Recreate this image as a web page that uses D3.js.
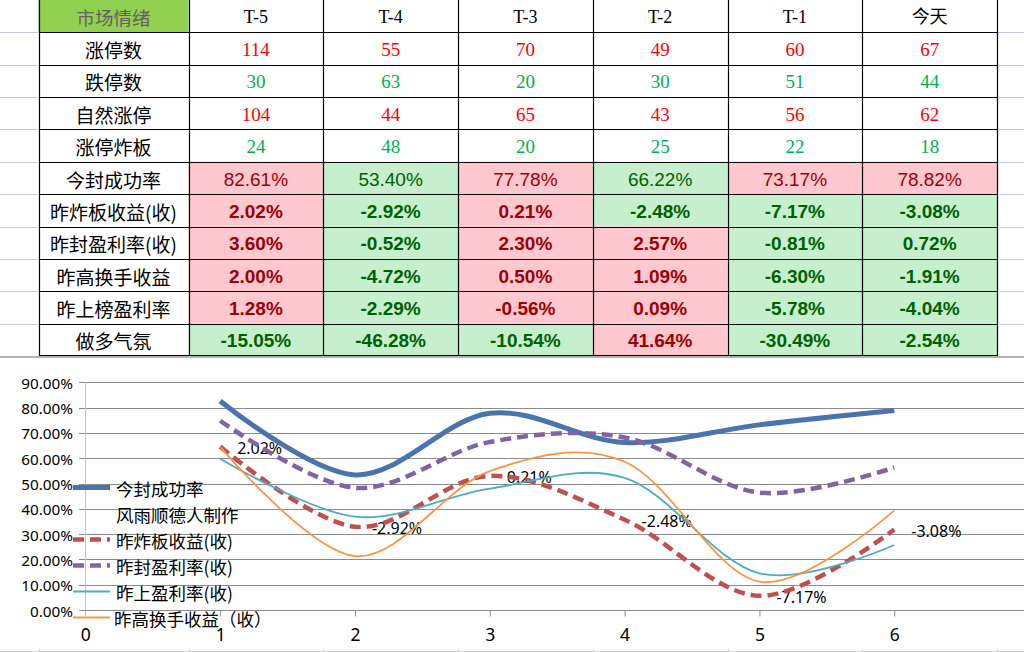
<!DOCTYPE html>
<html><head><meta charset="utf-8">
<script src="https://cdn.jsdelivr.net/npm/d3@7"></script>
<style>
html,body{margin:0;padding:0;background:#fff;}
svg{display:block;}
</style></head>
<body>
<svg id="c" width="1024" height="652"></svg>
<script>
// ---------- DATA ----------
const headerLabels = ['市场情绪','T-5','T-4','T-3','T-2','T-1','今天'];
const days = ['T-5','T-4','T-3','T-2','T-1','今天'];
const countRowNames = ['涨停数','跌停数','自然涨停','涨停炸板'];
const zhangTing = [114,55,70,49,60,67];
const dieTing = [30,63,20,30,51,44];
const ziRanZhangTing = [104,44,65,43,56,62];
const zhaBan = [24,48,20,25,22,18];
const countRowTone = ['up','down','up','down'];

const pctRowNames = ['今封成功率','昨炸板收益(收)','昨封盈利率(收)','昨高换手收益','昨上榜盈利率','做多气氛'];
const jinFengChengGong = [82.61,53.40,77.78,66.22,73.17,78.82];
const zuoZhaBanShouYi = [2.02,-2.92,0.21,-2.48,-7.17,-3.08];
const zuoFengYingLi = [3.60,-0.52,2.30,2.57,-0.81,0.72];
const zuoGaoHuanShou = [2.00,-4.72,0.50,1.09,-6.30,-1.91];
const zuoShangBang = [1.28,-2.29,-0.56,0.09,-5.78,-4.04];
const zuoDuoQiFen = [-15.05,-46.28,-10.54,41.64,-30.49,-2.54];
const toneJinFeng = ['up','down','up','down','up','up'];
const toneZhaBan = ['up','down','up','down','down','down'];
const toneFengYing = ['up','down','up','up','down','down'];
const toneGaoHuan = ['up','down','up','up','down','down'];
const toneShangBang = ['up','down','up','up','down','down'];
const toneZuoDuo = ['down','down','down','up','down','down'];

// chart (plotted values, %)
const xPoints = [1,2,3,4,5,6];
const xTicks = [0,1,2,3,4,5,6];
const yTicks = [0,10,20,30,40,50,60,70,80,90];
const lineJinFeng = [82.61,53.40,77.78,66.22,73.17,78.82];
const lineZhaBan = [64.6,32.9,53.0,35.7,5.6,31.8];
const lineFengYing = [74.8,48.3,66.4,68.2,46.4,56.3];
const lineShangYing = [59.8,36.9,48.0,52.2,14.5,25.7];
const lineGaoHuan = [64.5,21.3,54.9,58.6,11.2,39.4];
const zhaBanLabels = ['2.02%','-2.92%','0.21%','-2.48%','-7.17%','-3.08%'];
const legendNames = ['今封成功率','风雨顺德人制作','昨炸板收益(收)','昨封盈利率(收)','昨上盈利率(收)','昨高换手收益（收）'];

// ---------- DRAW ----------
const svg = d3.select('#c');
const cjk = '"Noto Sans CJK SC", "Noto Sans", sans-serif';
const chartFont = '"Noto Sans", "Noto Sans CJK SC", sans-serif';
const serif = '"Liberation Serif", "Noto Sans CJK SC", serif';
const arial = '"Liberation Sans", Arial, sans-serif';
const px = v => Math.round(v) + 0.5;

// Table scales
const tableLeft = 38.5, labelRight = 188.5, tableRight = 997;
const rowKeys = ['h'].concat(countRowNames, pctRowNames);
const yRow = d3.scaleBand().domain(rowKeys).range([0, 356]);
const xCol = d3.scaleBand().domain(days).range([labelRight, tableRight]);

// spreadsheet background gridlines outside the table
const bgG = svg.append('g');
rowKeys.slice(1).forEach(k => {
  const yy = px(yRow(k));
  bgG.append('line').attr('x1',0).attr('x2',tableLeft).attr('y1',yy).attr('y2',yy).attr('stroke','#c5cbde').attr('stroke-width',1);
  bgG.append('line').attr('x1',tableRight).attr('x2',1024).attr('y1',yy).attr('y2',yy).attr('stroke','#c5cbde').attr('stroke-width',1);
});

const tG = svg.append('g');
// header
tG.append('rect').attr('x',tableLeft).attr('y',0).attr('width',labelRight-tableLeft).attr('height',yRow.bandwidth()).attr('fill','#92D050');
tG.append('text').attr('x',(tableLeft+labelRight)/2).attr('y',yRow('h')+yRow.bandwidth()/2+1)
  .attr('text-anchor','middle').attr('dominant-baseline','central').attr('font-family',cjk).attr('font-size',18.5).attr('fill','#626262').text(headerLabels[0]);
days.forEach((d,i)=>{
  tG.append('text').attr('x',xCol(d)+xCol.bandwidth()/2).attr('y',yRow('h')+yRow.bandwidth()/2+1)
    .attr('text-anchor','middle').attr('dominant-baseline','central').attr('font-family',serif).attr('font-size',18).attr('fill','#000').text(headerLabels[i+1]);
});

// count rows
const countData = [zhangTing, dieTing, ziRanZhangTing, zhaBan];
countRowNames.forEach((name,r)=>{
  const cy = yRow(name)+yRow.bandwidth()/2+1;
  tG.append('text').attr('x',(tableLeft+labelRight)/2).attr('y',cy).attr('text-anchor','middle').attr('dominant-baseline','central')
    .attr('font-family',cjk).attr('font-size',19).attr('fill','#000').text(name);
  countData[r].forEach((v,i)=>{
    tG.append('text').attr('x',xCol(days[i])+xCol.bandwidth()/2).attr('y',cy).attr('text-anchor','middle').attr('dominant-baseline','central')
      .attr('font-family',serif).attr('font-size',19).attr('fill', countRowTone[r]==='up' ? '#FF0000' : '#00B050').text(v);
  });
});

// pct rows
const pctData = [jinFengChengGong, zuoZhaBanShouYi, zuoFengYingLi, zuoGaoHuanShou, zuoShangBang, zuoDuoQiFen];
const pctTones = [toneJinFeng, toneZhaBan, toneFengYing, toneGaoHuan, toneShangBang, toneZuoDuo];
pctRowNames.forEach((name,r)=>{
  const top = yRow(name), cy = top+yRow.bandwidth()/2+1;
  tG.append('text').attr('x',(tableLeft+labelRight)/2).attr('y',cy).attr('text-anchor','middle').attr('dominant-baseline','central')
    .attr('font-family',cjk).attr('font-size',19).attr('fill','#000').text(name);
  pctData[r].forEach((v,i)=>{
    const up = pctTones[r][i]==='up';
    tG.append('rect').attr('x',xCol(days[i])).attr('y',top).attr('width',xCol.bandwidth()).attr('height',yRow.bandwidth())
      .attr('fill', up ? '#FFC7CE' : '#C6EFCE');
    tG.append('text').attr('x',xCol(days[i])+xCol.bandwidth()/2).attr('y',cy).attr('text-anchor','middle').attr('dominant-baseline','central')
      .attr('font-family',arial).attr('font-size',19).attr('font-weight', r===0 ? 'normal' : 'bold')
      .attr('fill', up ? '#9C0006' : '#006100').text(v.toFixed(2)+'%');
  });
});

// table borders
const bG = svg.append('g').attr('stroke','#000').attr('stroke-width',1.2);
rowKeys.slice(1).forEach(k=>{
  bG.append('line').attr('x1',px(tableLeft)).attr('x2',px(tableRight)).attr('y1',px(yRow(k))).attr('y2',px(yRow(k)));
});
bG.append('line').attr('x1',px(tableLeft)).attr('x2',px(tableRight)).attr('y1',355.5).attr('y2',355.5);
[tableLeft].concat(days.map(d=>xCol(d)), [tableRight]).forEach(xx=>{
  bG.append('line').attr('x1',px(xx)).attr('x2',px(xx)).attr('y1',0).attr('y2',356);
});

// separator under table
svg.append('line').attr('x1',0).attr('x2',1024).attr('y1',357).attr('y2',357).attr('stroke','#9a9a9a').attr('stroke-width',1.5);

// ---------- CHART ----------
const x = d3.scaleLinear().domain([0,7]).range([85.3, 85.3+7*134.83]);
const y = d3.scaleLinear().domain([0,90]).range([610, 382.3]);
const cG = svg.append('g');

// gridlines
cG.append('g').selectAll('line').data(yTicks.filter(t=>t>0)).join('line')
  .attr('x1',79).attr('x2',1024).attr('y1',d=>px(y(d))).attr('y2',d=>px(y(d)))
  .attr('stroke','#8c8c8c').attr('stroke-width',1);
// y axis line
cG.append('line').attr('x1',px(x(0))).attr('x2',px(x(0))).attr('y1',y(90)).attr('y2',616)
  .attr('stroke','#c4c4c4').attr('stroke-width',1);
// x axis
const xAxis = d3.axisBottom(x).tickValues(xTicks).tickSize(6).tickSizeOuter(0).tickFormat(d3.format('d'));
const xa = cG.append('g').attr('transform',`translate(0,${px(y(0))})`).call(xAxis);
xa.select('.domain').remove();
xa.append('line').attr('x1',79).attr('x2',1024).attr('y1',0).attr('y2',0).attr('stroke','#8c8c8c');
xa.selectAll('.tick line').attr('stroke','#8c8c8c');
xa.selectAll('.tick text').attr('font-family',chartFont).attr('font-size',17.5).attr('fill','#000').attr('dy',null).attr('y',23).attr('dominant-baseline','central');
xa.selectAll('.tick').filter(d=>d===0).select('line').remove();
// y axis labels
const yAxis = d3.axisLeft(y).tickValues(yTicks).tickSize(0).tickFormat(d=>d.toFixed(2)+'%');
const ya = cG.append('g').attr('transform',`translate(73,0)`).call(yAxis);
ya.select('.domain').remove();
ya.selectAll('.tick text').attr('font-family',chartFont).attr('font-size',15.3).attr('fill','#000').attr('x',0).attr('dy',null).attr('dominant-baseline','central');

// series
const series = [
  {name:legendNames[0], vals:lineJinFeng, color:'#4A74AE', w:5, dash:null},
  {name:legendNames[2], vals:lineZhaBan, color:'#C0504D', w:4.5, dash:'11,6'},
  {name:legendNames[3], vals:lineFengYing, color:'#8064A2', w:4.5, dash:'11,6'},
  {name:legendNames[4], vals:lineShangYing, color:'#4BACC6', w:1.8, dash:null},
  {name:legendNames[5], vals:lineGaoHuan, color:'#F79646', w:1.8, dash:null},
];
const line = d3.line().x((d,i)=>x(xPoints[i])).y(d=>y(d)).curve(d3.curveCatmullRom.alpha(0));

// data labels for 昨炸板收益
cG.append('g').selectAll('text').data(zhaBanLabels).join('text')
  .attr('x',(d,i)=>x(xPoints[i])+17).attr('y',(d,i)=>y(lineZhaBan[i])+1)
  .attr('dominant-baseline','central').attr('font-family',chartFont).attr('font-size',16).attr('fill','#000').text(d=>d);

series.forEach(s=>{
  cG.append('path').datum(s.vals).attr('d',line).attr('fill','none').attr('stroke',s.color)
    .attr('stroke-width',s.w).attr('stroke-dasharray',s.dash).attr('stroke-linejoin','round');
});

// legend
const legY0 = 487.5, legStep = 26;
const lg = cG.append('g');
legendNames.forEach((n,i)=>{
  const yy = legY0 + i*legStep;
  const s = series.find(q=>q.name===n);
  if (s) {
    lg.append('line').attr('x1',73).attr('x2',110).attr('y1',yy).attr('y2',yy).attr('stroke',s.color)
      .attr('stroke-width',s.w).attr('stroke-dasharray',s.dash);
  }
  lg.append('text').attr('x', i===5 ? 114 : 116).attr('y',yy+1).attr('dominant-baseline','central')
    .attr('font-family',cjk).attr('font-size',17.5).attr('fill','#000').text(n);
});

// spreadsheet gridline at the very bottom
svg.append('line').attr('x1',0).attr('x2',1024).attr('y1',651.5).attr('y2',651.5).attr('stroke','#d0d0d0');
[tableLeft].concat(days.map(d=>xCol(d)), [tableRight]).forEach(xx=>{
  svg.append('line').attr('x1',px(xx)).attr('x2',px(xx)).attr('y1',649).attr('y2',652).attr('stroke','#d0d0d0');
});
</script>
</body></html>
